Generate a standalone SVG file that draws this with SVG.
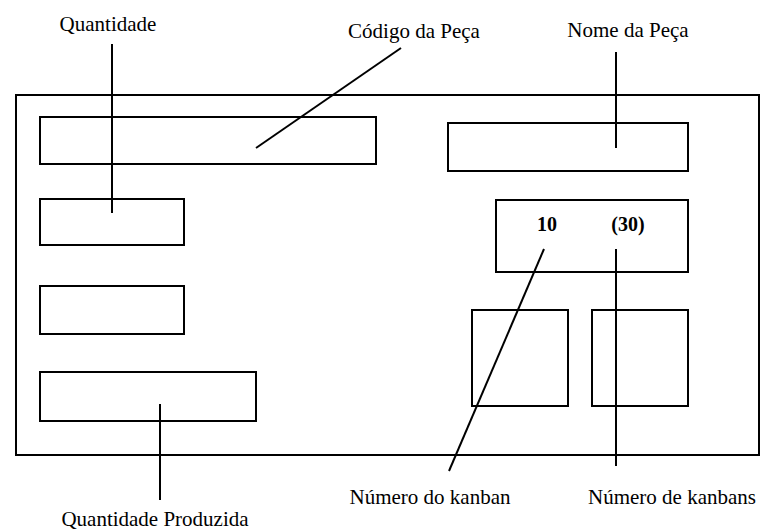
<svg xmlns="http://www.w3.org/2000/svg" width="760" height="531" viewBox="0 0 760 531">
<style>
.box{fill:none;stroke:#000;stroke-width:2}
.ln{stroke:#000;stroke-width:2;fill:none}
.t{font-family:"Liberation Serif","Times New Roman",serif;font-size:21px;fill:#000;text-anchor:middle}
.b{font-family:"Liberation Serif","Times New Roman",serif;font-size:20px;font-weight:bold;fill:#000;text-anchor:middle}
</style>
<rect width="760" height="531" fill="#fff"/>
<g id="card"><rect class="box" x="16" y="95" width="743" height="360"/></g>
<g id="codigo-box"><rect class="box" x="40" y="117" width="336" height="47"/></g>
<g id="quantidade-box"><rect class="box" x="40" y="199" width="144" height="46"/></g>
<g id="box3"><rect class="box" x="40" y="286" width="144" height="48"/></g>
<g id="produzida-box"><rect class="box" x="40" y="372" width="216" height="49"/></g>
<g id="nome-box"><rect class="box" x="448" y="123" width="240" height="48"/></g>
<g id="kanban-box"><rect class="box" x="496" y="200" width="192" height="72"/>
<text class="b" x="547" y="231">10</text><text class="b" x="628" y="231">(30)</text></g>
<g id="sq1"><rect class="box" x="472" y="310" width="96" height="96"/></g>
<g id="sq2"><rect class="box" x="592" y="310" width="96" height="96"/></g>
<g id="connectors">
<line class="ln" x1="112" y1="44" x2="112" y2="213"/>
<line class="ln" x1="256" y1="148" x2="401" y2="48"/>
<line class="ln" x1="616" y1="52" x2="616" y2="148"/>
<line class="ln" x1="160" y1="404" x2="160" y2="500"/>
<line class="ln" x1="544" y1="249" x2="449" y2="471"/>
<line class="ln" x1="616" y1="249" x2="616" y2="466"/>
</g>
<g id="labels">
<text class="t" x="108" y="31">Quantidade</text>
<text class="t" x="414" y="38">Código da Peça</text>
<text class="t" x="628" y="37">Nome da Peça</text>
<text class="t" x="430" y="504">Número do kanban</text>
<text class="t" x="672" y="504">Número de kanbans</text>
<text class="t" x="155" y="526">Quantidade Produzida</text>
</g>
</svg>
